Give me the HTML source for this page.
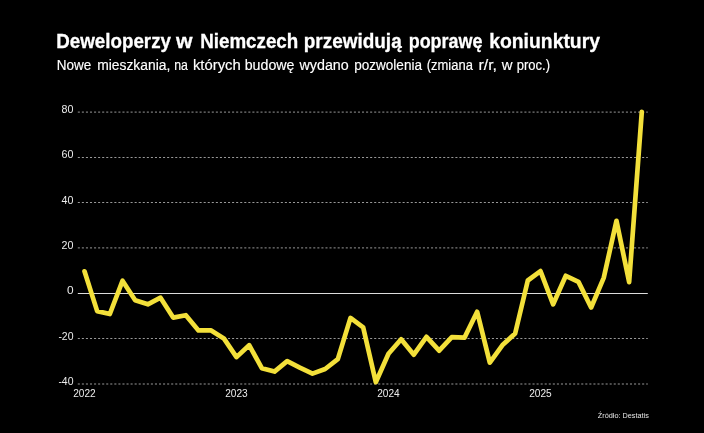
<!DOCTYPE html>
<html lang="pl"><head><meta charset="utf-8"><title>Deweloperzy w Niemczech</title>
<style>
html,body{margin:0;padding:0;background:#000;}
body{width:704px;height:433px;overflow:hidden;}
svg{display:block;will-change:transform;font-family:"Liberation Sans",sans-serif;}
.t{font-weight:bold;font-size:20.6px;fill:#fff;stroke:#fff;stroke-width:.3px;}
.s{font-size:14.9px;fill:#fff;stroke:#fff;stroke-width:.15px;}
.ax{font-size:10px;fill:#ececec;}
.src{font-size:7.8px;fill:#e6e6e6;}
</style></head><body>
<svg width="704" height="433" viewBox="0 0 704 433">
<rect width="704" height="433" fill="#000"/>
<text class="t" x="56.28" y="47.6" textLength="114.72" lengthAdjust="spacingAndGlyphs">Deweloperzy</text>
<text class="t" x="176.00" y="47.6" textLength="16.50" lengthAdjust="spacingAndGlyphs">w</text>
<text class="t" x="200.20" y="47.6" textLength="98.10" lengthAdjust="spacingAndGlyphs">Niemczech</text>
<text class="t" x="303.70" y="47.6" textLength="98.00" lengthAdjust="spacingAndGlyphs">przewidują</text>
<text class="t" x="408.70" y="47.6" textLength="73.80" lengthAdjust="spacingAndGlyphs">poprawę</text>
<text class="t" x="489.20" y="47.6" textLength="110.80" lengthAdjust="spacingAndGlyphs">koniunktury</text>
<text class="s" x="56.70" y="70" textLength="34.55" lengthAdjust="spacingAndGlyphs">Nowe</text>
<text class="s" x="97.20" y="70" textLength="73.10" lengthAdjust="spacingAndGlyphs">mieszkania,</text>
<text class="s" x="174.20" y="70" textLength="13.75" lengthAdjust="spacingAndGlyphs">na</text>
<text class="s" x="192.95" y="70" textLength="47.85" lengthAdjust="spacingAndGlyphs">których</text>
<text class="s" x="244.70" y="70" textLength="49.80" lengthAdjust="spacingAndGlyphs">budowę</text>
<text class="s" x="299.50" y="70" textLength="49.25" lengthAdjust="spacingAndGlyphs">wydano</text>
<text class="s" x="354.20" y="70" textLength="67.80" lengthAdjust="spacingAndGlyphs">pozwolenia</text>
<text class="s" x="426.70" y="70" textLength="46.25" lengthAdjust="spacingAndGlyphs">(zmiana</text>
<text class="s" x="478.45" y="70" textLength="18.60" lengthAdjust="spacingAndGlyphs">r/r,</text>
<text class="s" x="501.75" y="70" textLength="10.75" lengthAdjust="spacingAndGlyphs">w</text>
<text class="s" x="516.70" y="70" textLength="33.30" lengthAdjust="spacingAndGlyphs">proc.)</text>
<line x1="77.8" x2="647.8" y1="112.1" y2="112.1" stroke="#989898" stroke-width="1" stroke-dasharray="2.06 2"/>
<text x="61.60" y="112.7" textLength="11.90" lengthAdjust="spacingAndGlyphs" class="ax">80</text>
<line x1="77.8" x2="647.8" y1="157.5" y2="157.5" stroke="#989898" stroke-width="1" stroke-dasharray="2.06 2"/>
<text x="61.60" y="158.1" textLength="11.90" lengthAdjust="spacingAndGlyphs" class="ax">60</text>
<line x1="77.8" x2="647.8" y1="202.5" y2="202.5" stroke="#989898" stroke-width="1" stroke-dasharray="2.06 2"/>
<text x="61.60" y="204.0" textLength="11.90" lengthAdjust="spacingAndGlyphs" class="ax">40</text>
<line x1="77.8" x2="647.8" y1="247.9" y2="247.9" stroke="#989898" stroke-width="1" stroke-dasharray="2.06 2"/>
<text x="61.60" y="248.5" textLength="11.90" lengthAdjust="spacingAndGlyphs" class="ax">20</text>
<line x1="77.8" x2="647.8" y1="293.5" y2="293.5" stroke="#dcdcdc" stroke-width="1"/>
<text x="66.90" y="294.0" textLength="6.60" lengthAdjust="spacingAndGlyphs" class="ax">0</text>
<line x1="77.8" x2="647.8" y1="338.5" y2="338.5" stroke="#989898" stroke-width="1" stroke-dasharray="2.06 2"/>
<text x="58.40" y="340.0" textLength="15.10" lengthAdjust="spacingAndGlyphs" class="ax">-20</text>
<line x1="77.8" x2="647.8" y1="384.0" y2="384.0" stroke="#989898" stroke-width="1" stroke-dasharray="2.06 2"/>
<text x="58.40" y="384.6" textLength="15.10" lengthAdjust="spacingAndGlyphs" class="ax">-40</text>
<text x="73.25" y="397" textLength="22.5" lengthAdjust="spacingAndGlyphs" class="ax">2022</text>
<text x="225.24" y="397" textLength="22.5" lengthAdjust="spacingAndGlyphs" class="ax">2023</text>
<text x="377.23" y="397" textLength="22.5" lengthAdjust="spacingAndGlyphs" class="ax">2024</text>
<text x="529.23" y="397" textLength="22.5" lengthAdjust="spacingAndGlyphs" class="ax">2025</text>
<polyline points="84.50,271.3 97.17,311.1 109.83,314.0 122.50,280.8 135.16,300.3 147.83,304.3 160.50,297.7 173.16,317.6 185.83,315.2 198.49,330.4 211.16,330.4 223.83,338.4 236.49,357.1 249.16,345.2 261.82,368.2 274.49,371.6 287.16,361.1 299.82,367.6 312.49,373.6 325.15,369.0 337.82,359.1 350.49,317.9 363.15,327.3 375.82,382.2 388.48,353.7 401.15,339.2 413.82,354.7 426.48,336.8 439.15,350.7 451.81,337.2 464.48,337.6 477.15,311.8 489.81,362.6 502.48,345.1 515.14,333.5 527.81,280.5 540.48,271.1 553.14,304.3 565.81,275.8 578.47,281.9 591.14,307.5 603.81,277.6 616.47,220.8 629.14,282.1 641.80,111.8" fill="none" stroke="#f3e03a" stroke-width="4.7" stroke-linejoin="round" stroke-linecap="round"/>
<text class="src" x="597.8" y="418.1" textLength="51" lengthAdjust="spacingAndGlyphs">Źródło: Destatis</text>
</svg>
</body></html>
